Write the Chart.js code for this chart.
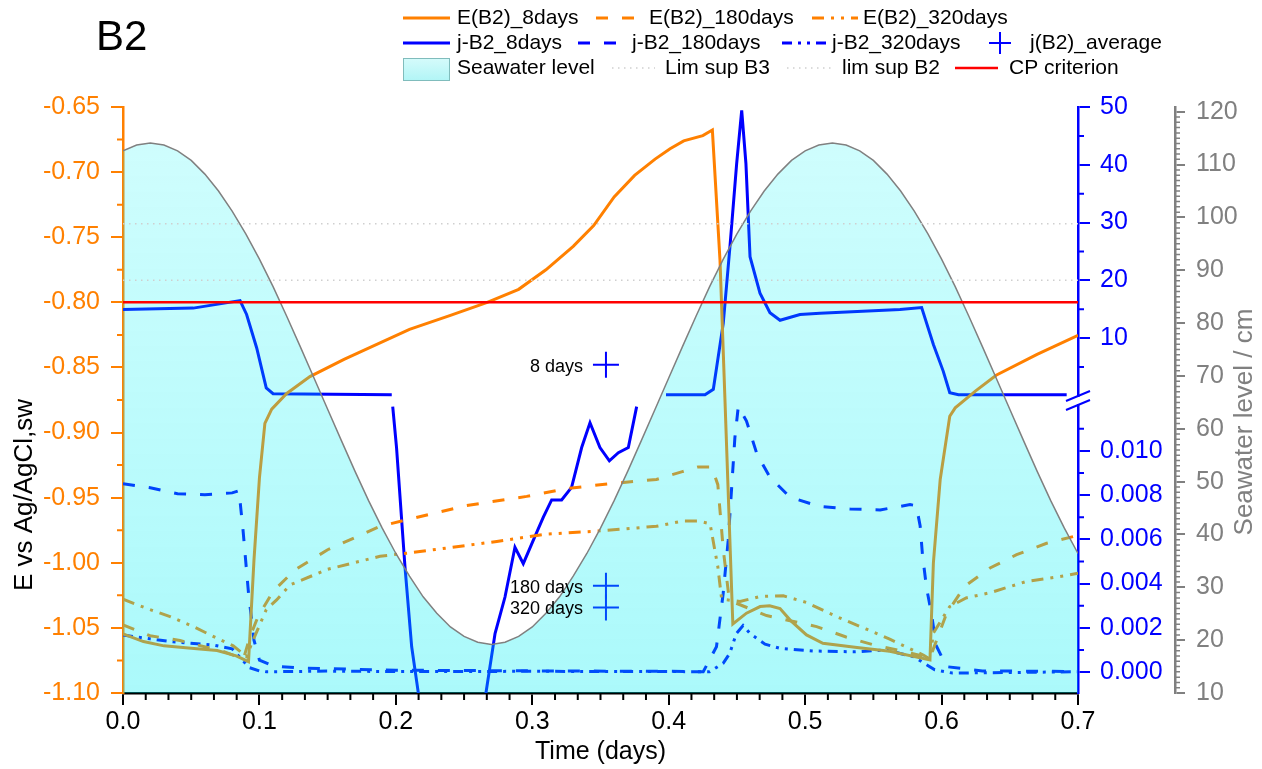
<!DOCTYPE html>
<html><head><meta charset="utf-8">
<script src="https://cdn.jsdelivr.net/npm/chart.js@4.4.1/dist/chart.umd.min.js"></script>
<style>html,body{margin:0;padding:0;background:#fff;}#wrap{width:1262px;height:769px;}</style>
</head><body><div id="wrap"><canvas id="c" width="1262" height="769"></canvas></div>
<script>
const FONT = "'Liberation Sans', Arial, Helvetica, sans-serif";
const ORANGE = '#ff8000', BLUE = '#0000ff', GRAY = '#808080', RED = '#ff0000', LIM = '#cfcfcf';

// ---- E (V vs Ag/AgCl,sw) ----
const tE8 = [0, 0.015, 0.03, 0.05, 0.069, 0.083, 0.092, 0.096, 0.1, 0.104, 0.109, 0.12, 0.137, 0.162, 0.186, 0.21, 0.24, 0.267, 0.29, 0.31, 0.33, 0.345, 0.36, 0.375, 0.39, 0.401, 0.411, 0.425, 0.432, 0.4376, 0.4413, 0.447, 0.457, 0.467, 0.474, 0.4816, 0.489, 0.501, 0.513, 0.538, 0.562, 0.5915, 0.594, 0.599, 0.606, 0.61, 0.625, 0.64, 0.67, 0.7];
const E8 = [-1.0546, -1.0605, -1.0638, -1.0656, -1.0674, -1.0715, -1.0759, -0.998, -0.935, -0.893, -0.882, -0.870, -0.857, -0.8438, -0.8323, -0.8208, -0.810, -0.800, -0.790, -0.775, -0.757, -0.741, -0.719, -0.7025, -0.690, -0.682, -0.676, -0.672, -0.6677, -0.768, -0.877, -1.047, -1.0387, -1.0336, -1.033, -1.0352, -1.044, -1.0554, -1.0618, -1.0651, -1.068, -1.0746, -1.00, -0.936, -0.8875, -0.881, -0.868, -0.856, -0.840, -0.8254];

const tE180 = [0, 0.0198, 0.0418, 0.0613, 0.071, 0.0882, 0.093, 0.099, 0.11, 0.126, 0.15, 0.1884, 0.208, 0.2519, 0.2959, 0.325, 0.3594, 0.391, 0.41, 0.4215, 0.4315, 0.436, 0.44, 0.444, 0.447, 0.4717, 0.5084, 0.53, 0.552, 0.572, 0.5915, 0.6037, 0.617, 0.6355, 0.655, 0.677, 0.7];
const E180 = [-1.0477, -1.056, -1.0597, -1.0649, -1.067, -1.0741, -1.057, -1.0413, -1.022, -1.0054, -0.990, -0.972, -0.967, -0.956, -0.949, -0.943, -0.939, -0.936, -0.930, -0.9264, -0.9264, -0.94, -0.99, -1.025, -1.03, -1.0405, -1.049, -1.057, -1.0636, -1.068, -1.073, -1.0389, -1.018, -1.004, -0.9938, -0.985, -0.979];

const tE320 = [0, 0.0198, 0.0345, 0.0515, 0.071, 0.0808, 0.0906, 0.0955, 0.105, 0.1126, 0.1224, 0.15, 0.1884, 0.208, 0.237, 0.274, 0.3105, 0.347, 0.391, 0.41, 0.4217, 0.4303, 0.436, 0.4388, 0.4523, 0.467, 0.484, 0.501, 0.523, 0.545, 0.562, 0.5866, 0.5915, 0.594, 0.606, 0.618, 0.6355, 0.662, 0.687, 0.7];
const E320 = [-1.028, -1.036, -1.0413, -1.049, -1.059, -1.0638, -1.072, -1.059, -1.036, -1.0285, -1.017, -1.005, -0.995, -0.9926, -0.9887, -0.9836, -0.978, -0.9757, -0.972, -0.968, -0.968, -0.970, -1.003, -1.028, -1.0297, -1.0259, -1.0254, -1.0305, -1.0413, -1.051, -1.0587, -1.0708, -1.074, -1.054, -1.0336, -1.027, -1.023, -1.0144, -1.0105, -1.008];

// ---- j (upper broken-axis segment) ----
const tJ8hi = [0, 0.0515, 0.0858, 0.0906, 0.098, 0.105, 0.110, 0.197, 0.3, 0.398, 0.4266, 0.4327, 0.44, 0.4449, 0.4498, 0.4535, 0.4566, 0.4596, 0.4669, 0.4742, 0.4816, 0.4962, 0.5109, 0.5695, 0.5854, 0.594, 0.6012, 0.606, 0.6124, 0.6917];
const J8hi = [14.95, 15.2, 16.5, 14.1, 8.3, 1.4, 0.4, 0.2, null, 0.2, 0.2, 1.15, 12.6, 25.9, 40.2, 49.4, 40.2, 24.1, 17.8, 14.4, 13.1, 14.1, 14.3, 14.95, 15.3, 8.9, 4.3, 0.57, 0.2, 0.2];

// ---- j (lower broken-axis segment) ----
const tJ8lo = [0.1977, 0.2005, 0.2067, 0.2116, 0.2165, 0.222, 0.26, 0.266, 0.2727, 0.28, 0.2873, 0.2934, 0.3007, 0.3081, 0.3142, 0.3215, 0.3288, 0.3362, 0.3423, 0.3496, 0.3565, 0.3631, 0.3704, 0.3765];
const J8lo = [0.0120, 0.01015, 0.00474, 0.00114, -0.00096, -0.0035, -0.0035, -0.00096, 0.00174, 0.00339, 0.00564, 0.0049, 0.00595, 0.007, 0.00778, 0.00778, 0.00835, 0.01015, 0.01127, 0.01015, 0.00955, 0.00992, 0.01015, 0.0120];

const tJ180 = [0, 0.02, 0.04, 0.06, 0.08, 0.085, 0.088, 0.092, 0.096, 0.1, 0.11, 0.13, 0.2, 0.3, 0.4, 0.4253, 0.435, 0.4399, 0.4436, 0.446, 0.4485, 0.451, 0.457, 0.4647, 0.4743, 0.489, 0.511, 0.533, 0.555, 0.5769, 0.5815, 0.5843, 0.586, 0.589, 0.5927, 0.596, 0.6037, 0.63, 0.7];
const J180 = [0.00851, 0.00833, 0.00806, 0.00802, 0.0081, 0.0082, 0.0064, 0.00356, 0.00144, 0.00054, 0.00027, 0.00018, 0.00008, 0.00005, 0.00003, 0.00001, 0.00114, 0.00354, 0.00595, 0.0082, 0.0106, 0.0120, 0.01135, 0.00985, 0.0088, 0.0079, 0.00748, 0.00737, 0.00733, 0.00757, 0.00752, 0.0066, 0.0053, 0.0038, 0.0026, 0.0012, 0.00024, 0.00005, 0.00002];

const tJ320 = [0, 0.0198, 0.0366, 0.066, 0.08, 0.0925, 0.1, 0.105, 0.15, 0.2, 0.3, 0.4, 0.43, 0.44, 0.4447, 0.4496, 0.4545, 0.4596, 0.4706, 0.4816, 0.5057, 0.537, 0.559, 0.58, 0.595, 0.608, 0.7];
const J320 = [0.00167, 0.0015, 0.00137, 0.00122, 0.00105, 0.0002, 0.00005, 0.00001, 0.00004, 0.00002, 0.00003, 0.00002, 0.00001, 0.0004, 0.00084, 0.00174, 0.0021, 0.00174, 0.00126, 0.00107, 0.00095, 0.00091, 0.001, 0.00068, 0.0001, -0.00005, 0.00001];

// ---- j(B2)_average ----
const avgLabels = ['8 days', '180 days', '320 days'];
const tAvg = [0.354, 0.354, 0.354];
const jAvg = [5.4, 0.0039, 0.00292];

// ---- seawater level (cm) ----
const tSw = [0,0.01,0.02,0.03,0.04,0.05,0.06,0.07,0.08,0.09,0.1,0.11,0.12,0.13,0.14,0.15,0.16,0.17,0.18,0.19,0.2,0.21,0.22,0.23,0.24,0.25,0.26,0.27,0.28,0.29,0.3,0.31,0.32,0.33,0.34,0.35,0.36,0.37,0.38,0.39,0.4,0.41,0.42,0.43,0.44,0.45,0.46,0.47,0.48,0.49,0.5,0.51,0.52,0.53,0.54,0.55,0.56,0.57,0.58,0.59,0.6,0.61,0.62,0.63,0.64,0.65,0.66,0.67,0.68,0.69,0.7];
const sw = [112.6,113.7,114.1,113.7,112.6,110.8,108.2,105.0,101.2,96.9,92.1,86.9,81.3,75.5,69.6,63.7,57.8,52.0,46.4,41.2,36.4,32.1,28.2,25.1,22.5,20.7,19.6,19.2,19.6,20.7,22.5,25.1,28.2,32.1,36.4,41.2,46.4,52.0,57.8,63.7,69.6,75.5,81.3,86.9,92.1,96.9,101.2,105.0,108.2,110.8,112.6,113.7,114.1,113.7,112.6,110.8,108.2,105.0,101.2,96.9,92.1,86.9,81.3,75.5,69.6,63.7,57.8,52.0,46.4,41.2,36.4];

// ---- reference lines ----
const limB3 = 29.8, limB2 = 20.0, cpCriterion = -0.80;

// ---- tick labels ----
const ticksX = [0, 0.1, 0.2, 0.3, 0.4, 0.5, 0.6, 0.7];
const ticksE = [-1.10, -1.05, -1.00, -0.95, -0.90, -0.85, -0.80, -0.75, -0.70, -0.65];
const ticksJhi = [10, 20, 30, 40, 50];
const ticksJlo = [0, 0.002, 0.004, 0.006, 0.008, 0.010];
const ticksSw = [10, 20, 30, 40, 50, 60, 70, 80, 90, 100, 110, 120];

const pts = (xs, ys) => xs.map((x, i) => ({x: x, y: ys[i]}));
const line = (label, xs, ys, axis, color, dash, width, order) => ({
  label, data: pts(xs, ys), yAxisID: axis, borderColor: color, backgroundColor: color,
  borderWidth: width, borderDash: dash, pointRadius: 0, pointHoverRadius: 0,
  fill: false, tension: 0, order: order
});

const DASH = [12, 14];
const DASH_DOT = [12, 7, 3, 7, 3, 7];

const swFill = (c) => {
  const a = c.chart.chartArea;
  if (!a) return 'rgba(0,240,240,0.25)';
  const g = c.chart.ctx.createLinearGradient(0, a.top, 0, a.bottom);
  g.addColorStop(0, 'rgba(0,245,245,0.18)');
  g.addColorStop(1, 'rgba(0,238,242,0.33)');
  return g;
};

const datasets = [
  line('E(B2)_8days', tE8, E8, 'yE', ORANGE, [], 3, 5),
  line('E(B2)_180days', tE180, E180, 'yE', ORANGE, DASH, 3, 5),
  line('E(B2)_320days', tE320, E320, 'yE', ORANGE, DASH_DOT, 3, 5),
  line('j-B2_8days', tJ8hi, J8hi, 'yJhi', BLUE, [], 3, 5),
  line('j-B2_8days', tJ8lo, J8lo, 'yJlo', BLUE, [], 3, 5),
  line('j-B2_180days', tJ180, J180, 'yJlo', BLUE, DASH, 3, 5),
  line('j-B2_320days', tJ320, J320, 'yJlo', BLUE, [10, 6, 3, 6, 3, 6], 3, 5),
  {label: 'j(B2)_average', data: [{x: tAvg[0], y: jAvg[0]}], yAxisID: 'yJhi', showLine: false,
   pointStyle: 'cross', pointRadius: 13, pointBorderWidth: 2, borderColor: BLUE, backgroundColor: BLUE, order: 5},
  {label: 'j(B2)_average', data: pts(tAvg.slice(1), jAvg.slice(1)), yAxisID: 'yJlo', showLine: false,
   pointStyle: 'cross', pointRadius: 13, pointBorderWidth: 2, borderColor: BLUE, backgroundColor: BLUE, order: 5},
  {label: 'Seawater level', data: pts(tSw, sw), yAxisID: 'ySw', borderColor: GRAY, borderWidth: 1.5,
   pointRadius: 0, fill: 'start', backgroundColor: swFill, tension: 0, order: 2},
  line('Lim sup B3', [0, 0.7], [limB3, limB3], 'yJhi', LIM, [1.5, 4.5], 1.5, 1),
  line('lim sup B2', [0, 0.7], [limB2, limB2], 'yJhi', LIM, [1.5, 4.5], 1.5, 1),
  line('CP criterion', [0, 0.7], [cpCriterion, cpCriterion], 'yE', RED, [], 2.5, 1)
];

const tickFont = {family: FONT, size: 25};
const fixTicks = (list) => (s) => { s.ticks = list.map(v => ({value: v})); };
const axisGrid = (color, len) => ({display: true, drawOnChartArea: false, drawTicks: true, tickLength: len, tickColor: color, lineWidth: 2});

const decor = {
  id: 'decor',
  beforeDatasetDraw(chart, args) {
    const id = args.meta.yAxisID;
    if (id === 'yJhi' || id === 'yJlo') {
      const s = chart.scales[id], a = chart.chartArea, ctx = chart.ctx;
      ctx.save();
      ctx.beginPath();
      ctx.rect(a.left, s.top, a.right - a.left, s.bottom - s.top);
      ctx.clip();
      args.meta._clipped = true;
    }
  },
  afterDatasetDraw(chart, args) {
    if (args.meta._clipped) { chart.ctx.restore(); args.meta._clipped = false; }
  },
  afterDraw(chart) {
    const ctx = chart.ctx, S = chart.scales, a = chart.chartArea;
    ctx.save();
    ctx.lineWidth = 2;
    // minor ticks
    const minorX = () => {
      ctx.strokeStyle = '#000'; ctx.beginPath();
      for (let k = 0; k <= 42; k++) { if (k % 6 === 0) continue; const p = S.x.getPixelForValue(k / 60); ctx.moveTo(p, a.bottom); ctx.lineTo(p, a.bottom + 7); }
      ctx.stroke();
    };
    const minorY = (s, vals, len, color, side) => {
      ctx.strokeStyle = color; ctx.beginPath();
      const x0 = side < 0 ? s.right : s.left;
      vals.forEach(v => { const p = s.getPixelForValue(v); ctx.moveTo(x0, p); ctx.lineTo(x0 + side * len, p); });
      ctx.stroke();
    };
    minorX();
    const mE = []; for (let k = 0; k < 9; k++) mE.push(-1.075 + 0.05 * k);
    minorY(S.yE, mE, 6, ORANGE, -1);
    minorY(S.yJhi, [5, 15, 25, 35, 45], 6, BLUE, 1);
    minorY(S.yJlo, [0.001, 0.003, 0.005, 0.007, 0.009, 0.011], 6, BLUE, 1);
    const mS = []; for (let v = 11; v < 120; v++) if (v % 10) mS.push(v);
    ctx.lineWidth = 1.5;
    minorY(S.ySw, mS, 5, GRAY, 1);
    // axis break marks
    const bx = S.yJhi.left, by = S.yJhi.bottom;
    ctx.fillStyle = '#fff';
    ctx.fillRect(bx - 2, by - 3, 4, 7);
    ctx.strokeStyle = BLUE; ctx.lineWidth = 2;
    ctx.beginPath();
    ctx.moveTo(bx - 12, by + 1); ctx.lineTo(bx + 12, by - 9);
    ctx.moveTo(bx - 12, by + 10); ctx.lineTo(bx + 12, by);
    ctx.stroke();
    // average labels
    ctx.fillStyle = '#000'; ctx.font = '18px ' + FONT; ctx.textAlign = 'right'; ctx.textBaseline = 'middle';
    const avgAxes = ['yJhi', 'yJlo', 'yJlo'];
    avgLabels.forEach((t, i) => {
      const px = S.x.getPixelForValue(tAvg[i]), py = S[avgAxes[i]].getPixelForValue(jAvg[i]);
      ctx.fillText(t, px - 23, py + 2);
    });
    // titles
    ctx.font = '42px ' + FONT; ctx.textAlign = 'left'; ctx.textBaseline = 'alphabetic';
    ctx.fillText('B2', 96, 50);
    ctx.font = '25px ' + FONT; ctx.textAlign = 'center'; ctx.textBaseline = 'middle';
    ctx.fillText('Time (days)', (a.left + a.right) / 2, 752);
    ctx.save(); ctx.font = '26px ' + FONT; ctx.translate(25, 495); ctx.rotate(-Math.PI / 2);
    ctx.fillText('E vs Ag/AgCl,sw', 0, 0); ctx.restore();
    ctx.save(); ctx.font = '26px ' + FONT; ctx.fillStyle = GRAY; ctx.translate(1245, 422); ctx.rotate(-Math.PI / 2);
    ctx.fillText('Seawater level / cm', 0, 0); ctx.restore();
    // legend
    const ds = chart.data.datasets;
    ctx.font = '21px ' + FONT; ctx.textAlign = 'left'; ctx.textBaseline = 'middle'; ctx.fillStyle = '#000';
    const sample = (d, x0, x1, y) => {
      ctx.save(); ctx.strokeStyle = d.borderColor; ctx.lineWidth = d.borderWidth; ctx.setLineDash(d.borderDash || []);
      ctx.beginPath(); ctx.moveTo(x0, y); ctx.lineTo(x1, y); ctx.stroke(); ctx.restore();
    };
    const items = [
      [0, 403, 450, 457, 18], [1, 596, 638, 649, 18], [2, 812, 858, 863, 18],
      [3, 403, 450, 457, 43], [5, 578, 622, 632, 43], [6, 782, 826, 832, 43],
      [10, 612, 655, 665, 68], [11, 787, 832, 842, 68], [12, 955, 998, 1009, 68]
    ];
    items.forEach(([i, x0, x1, tx, y]) => { sample(ds[i], x0, x1, y); ctx.fillText(ds[i].label, tx, y); });
    // average marker
    ctx.save(); ctx.strokeStyle = BLUE; ctx.lineWidth = 2; ctx.beginPath();
    ctx.moveTo(989, 43); ctx.lineTo(1011, 43); ctx.moveTo(1000, 32); ctx.lineTo(1000, 54); ctx.stroke(); ctx.restore();
    ctx.fillText(ds[7].label, 1030, 43);
    // seawater box
    const g = ctx.createLinearGradient(0, 58, 0, 80);
    g.addColorStop(0, '#d6fbfb'); g.addColorStop(1, '#b2f5f6');
    ctx.fillStyle = g; ctx.fillRect(403.5, 58.5, 46, 22);
    ctx.strokeStyle = '#80bcbc'; ctx.lineWidth = 1; ctx.strokeRect(403.5, 58.5, 46, 22);
    ctx.fillStyle = '#000'; ctx.fillText(ds[9].label, 457, 68);
    ctx.restore();
  }
};

new Chart(document.getElementById('c'), {
  type: 'line',
  data: {datasets},
  options: {
    responsive: false, animation: false, events: [],
    layout: {padding: {top: 107, left: 0, right: 0, bottom: 0}},
    plugins: {legend: {display: false}, title: {display: false}, tooltip: {enabled: false}},
    scales: {
      x: {type: 'linear', position: 'bottom', min: 0, max: 0.7,
          border: {display: true, color: '#000', width: 2.5}, grid: axisGrid('#000', 12),
          afterBuildTicks: fixTicks(ticksX),
          ticks: {color: '#000', font: tickFont, padding: 2, maxRotation: 0, autoSkip: false, callback: v => v.toFixed(1)},
          afterFit: s => { s.height = 76; }},
      yE: {type: 'linear', position: 'left', min: -1.10, max: -0.65,
          border: {display: true, color: ORANGE, width: 2.5}, grid: axisGrid(ORANGE, 12),
          afterBuildTicks: fixTicks(ticksE),
          ticks: {color: ORANGE, font: tickFont, padding: 11, autoSkip: false, callback: v => v.toFixed(2)},
          afterFit: s => { s.width = 123; }},
      yJhi: {type: 'linear', position: 'right', stack: 'j', stackWeight: 1, weight: 0, min: -0.7, max: 50,
          border: {display: true, color: BLUE, width: 2.5}, grid: axisGrid(BLUE, 12),
          afterBuildTicks: fixTicks(ticksJhi),
          ticks: {color: BLUE, font: tickFont, padding: 10, autoSkip: false, callback: v => String(v)},
          afterFit: s => { s.width = 97; }},
      yJlo: {type: 'linear', position: 'right', stack: 'j', stackWeight: 1, weight: 0, min: -0.00095, max: 0.0123,
          border: {display: true, color: BLUE, width: 2.5}, grid: axisGrid(BLUE, 12),
          afterBuildTicks: fixTicks(ticksJlo),
          ticks: {color: BLUE, font: tickFont, padding: 10, autoSkip: false, callback: v => v.toFixed(3)},
          afterFit: s => { s.width = 97; }},
      ySw: {type: 'linear', position: 'right', weight: 10, min: 10, max: 120.9,
          border: {display: true, color: GRAY, width: 2.5}, grid: axisGrid(GRAY, 10),
          afterBuildTicks: fixTicks(ticksSw),
          ticks: {color: GRAY, font: tickFont, padding: 11, autoSkip: false, callback: v => String(v)},
          afterFit: s => { s.width = 87; }}
    }
  },
  plugins: [decor]
});
</script></body></html>
